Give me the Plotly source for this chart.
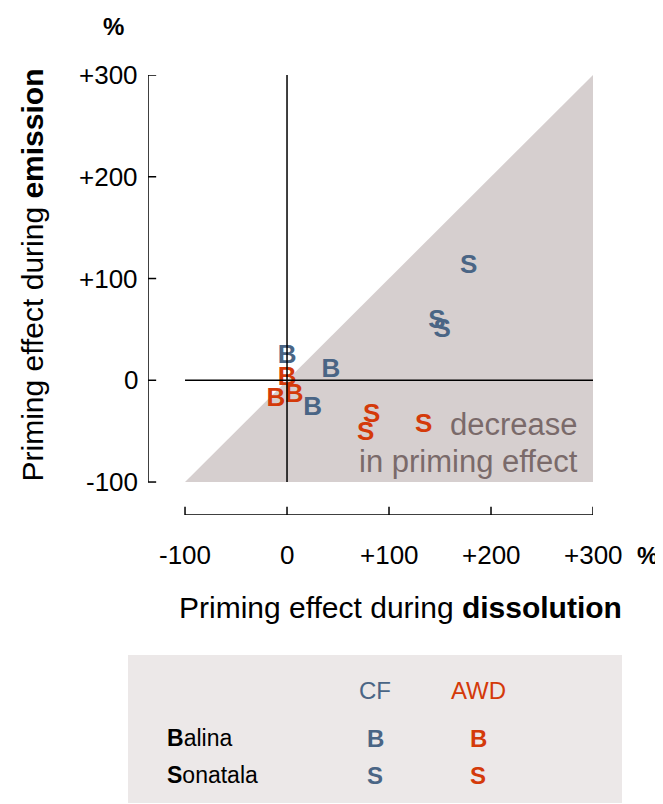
import plotly.graph_objects as go

cf_x = [0, 43, 25, 178, 147, 152]
cf_y = [23, 10, -28, 112, 58, 49]
cf_t = ["B", "B", "B", "S", "S", "S"]
awd_x = [0, 7, -11, 83, 77, 134]
awd_y = [2, -15, -19, -35, -52, -44]
awd_t = ["B", "B", "B", "S", "S", "S"]
ticks = [-100, 0, 100, 200, 300]
xlab = ["-100", "0", "+100", "+200", "+300"]
ylab = ["-100", "0", "+100", "+200", "+300"]

BLUE = "#4a6585"; RED = "#d43a0a"; F = "Liberation Sans, Arial"
XR = [-136.3, 300]; YR = [-132.4, 300]
OX, OY = 8, 8  # page offset

fig = go.Figure()
fig.add_trace(go.Scatter(x=[-100, 300, 300, -100], y=[-100, 300, -100, -100], fill="toself",
                         fillcolor="#d6cfcf", line=dict(width=0), mode="lines", hoverinfo="skip"))
fig.add_trace(go.Scatter(x=cf_x, y=cf_y, text=cf_t, mode="text",
                         textfont=dict(color=BLUE, size=26, family=F, weight="bold")))
fig.add_trace(go.Scatter(x=awd_x, y=awd_y, text=awd_t, mode="text",
                         textfont=dict(color=RED, size=26, family=F, weight="bold")))

shapes = [
    dict(type="line", x0=-100, x1=300, y0=0, y1=0, line=dict(color="black", width=1.5)),
    dict(type="line", x0=0, x1=0, y0=-100, y1=300, line=dict(color="black", width=1.5)),
    dict(type="line", x0=-100, x1=300, y0=YR[0], y1=YR[0], line=dict(color="black", width=1.5)),
    dict(type="line", x0=XR[0], x1=XR[0], y0=-100, y1=300, line=dict(color="black", width=1.5)),
    dict(type="rect", xref="paper", yref="paper", x0=(128-148)/445, x1=(622-148)/445,
         y0=(515-803)/440, y1=(515-655)/440, fillcolor="#ece8e8", line=dict(width=0), layer="below"),
]
ann = []
for v, t in zip(ticks, xlab):
    shapes.append(dict(type="line", x0=v, x1=v, y0=YR[0], y1=YR[0]+8, line=dict(color="black", width=1.5)))
    ann.append(dict(x=v, y=YR[0], yshift=-40, text=t, showarrow=False, font=dict(size=26, family=F, color="black")))
for v, t in zip(ticks, ylab):
    shapes.append(dict(type="line", y0=v, y1=v, x0=XR[0], x1=XR[0]+8, line=dict(color="black", width=1.5)))
    ann.append(dict(x=XR[0], y=v, xshift=-8, xanchor="right", text=t, showarrow=False,
                    font=dict(size=26, family=F, color="black")))

def pa(x, y, text, size=20, color="black", anchor="center", bold=False):
    ann.append(dict(xref="paper", yref="paper", x=(x-148)/445, y=(515-y)/440, text=text, showarrow=False,
                    xanchor=anchor, yanchor="middle",
                    font=dict(size=size, family=F, color=color, weight="bold" if bold else "normal")))

pa(647, 555, "%", size=24, bold=True)
pa(113, 27, "%", size=24, bold=True)
pa(400, 607, "Priming effect during <b>dissolution</b>", size=30)
ann.append(dict(xref="paper", yref="paper", x=(13-148)/445, y=(515-275)/440, text="Priming effect during <b>emission</b>",
                showarrow=False, textangle=-90, font=dict(size=30, family=F, color="black")))
pa(580, 424, "decrease", size=31, color="#7a6a6a", anchor="right")
pa(580, 461, "in priming effect", size=31, color="#7a6a6a", anchor="right")
pa(375, 690, "CF", size=24, color=BLUE)
pa(478, 690, "AWD", size=24, color=RED)
pa(165, 738, "<b>B</b>alina", size=23, anchor="left")
pa(165, 775, "<b>S</b>onatala", size=23, anchor="left")
pa(375, 738, "B", size=24, color=BLUE, bold=True)
pa(478, 738, "B", size=24, color=RED, bold=True)
pa(375, 775, "S", size=24, color=BLUE, bold=True)
pa(478, 775, "S", size=24, color=RED, bold=True)

fig.update_layout(width=663, height=804, margin=dict(l=148-OX, r=70+OX, t=75-OY, b=289+OY),
                  paper_bgcolor="white", plot_bgcolor="white", showlegend=False,
                  shapes=shapes, annotations=ann,
                  xaxis=dict(range=XR, visible=False, fixedrange=True),
                  yaxis=dict(range=YR, visible=False, fixedrange=True))
fig.write_html("out.html")
